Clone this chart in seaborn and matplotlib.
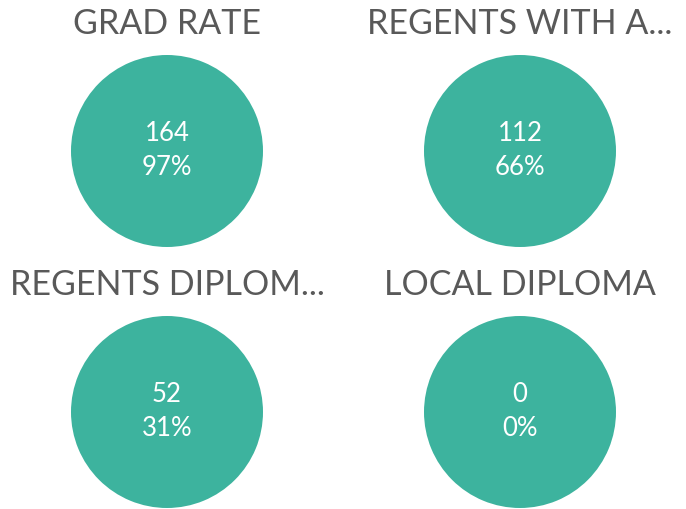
import matplotlib
matplotlib.use("Agg")
import matplotlib.pyplot as plt
import seaborn as sns

sns.set_theme(style="white")
plt.rcParams["font.family"] = ["Lato", "DejaVu Sans"]

# Graduation outcome tiles
titles = ["GRAD RATE", "REGENTS WITH A...", "REGENTS DIPLOM...", "LOCAL DIPLOMA"]
counts = [164, 112, 52, 0]
percents = [97, 66, 31, 0]

circle_color = "#3DB39E"
title_color = "#595959"

W, H = 686, 510
fig = plt.figure(figsize=(W / 100, H / 100), dpi=100)
fig.patch.set_facecolor("white")

# tile centres (px from top-left) and radius
centres = [(167, 152), (520, 152), (167, 413), (520, 413)]
title_y = [24, 24, 285, 285]
radius = 96

for i, (title, n, pct) in enumerate(zip(titles, counts, percents)):
    cx, cy = centres[i]
    ax = fig.add_axes([(cx - radius) / W, 1 - (cy + radius) / H,
                       2 * radius / W, 2 * radius / H])
    # each tile is a single full wedge
    ax.pie([1], colors=[circle_color], radius=1, startangle=90,
           wedgeprops=dict(linewidth=0))
    ax.set_xlim(-1, 1)
    ax.set_ylim(-1, 1)
    ax.set_aspect("equal")
    ax.axis("off")
    ax.text(0, 0.19, f"{n}", ha="center", va="center", color="white",
            fontsize=18.5)
    ax.text(0, -0.165, f"{pct}%", ha="center", va="center", color="white",
            fontsize=18.5)
    fig.text(cx / W, 1 - title_y[i] / H, title, ha="center", va="center",
             color=title_color, fontsize=24.5)

fig.savefig("out.png", dpi=100, facecolor="white")
